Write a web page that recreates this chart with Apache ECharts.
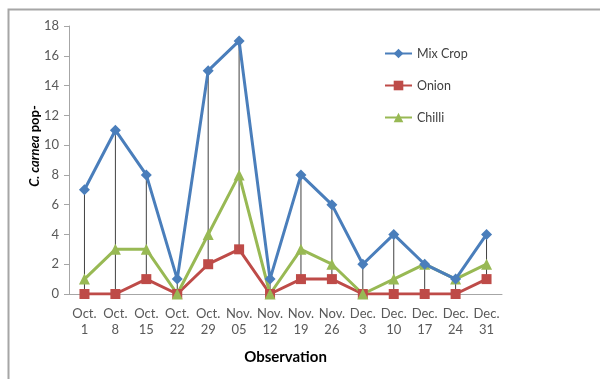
<!DOCTYPE html>
<html>
<head>
<meta charset="utf-8">
<script src="https://cdn.jsdelivr.net/npm/echarts@6/dist/echarts.min.js"></script>
<style>
  html, body { margin: 0; padding: 0; background: #fff; }
  #chart { width: 600px; height: 379px; }
</style>
</head>
<body>
<div id="chart"></div>
<script>
// Sampling dates (two-line labels)
const categories = ['Oct.\n1', 'Oct.\n8', 'Oct.\n15', 'Oct.\n22', 'Oct.\n29', 'Nov.\n05', 'Nov.\n12',
                    'Nov.\n19', 'Nov.\n26', 'Dec.\n3', 'Dec.\n10', 'Dec.\n17', 'Dec.\n24', 'Dec.\n31'];

// C. carnea population per crop
const mixCrop = [7, 11, 8, 1, 15, 17, 1, 8, 6, 2, 4, 2, 1, 4];
const onion   = [0, 0, 1, 0, 2, 3, 0, 1, 1, 0, 0, 0, 0, 1];
const chilli  = [1, 3, 3, 0, 4, 8, 0, 3, 2, 0, 1, 2, 1, 2];

const yTicks = { min: 0, max: 18, interval: 2 };

// High-low span for each date, across the three crops
const highLow = categories.map((c, i) => {
  const vals = [mixCrop[i], onion[i], chilli[i]];
  return [i, Math.min(...vals), Math.max(...vals)];
});

const font = 'Lato, "Open Sans", "Liberation Sans", sans-serif';
const chart = echarts.init(document.getElementById('chart'));

chart.setOption({
  animation: false,
  backgroundColor: '#fff',
  textStyle: { fontFamily: font },
  graphic: [
    {
      type: 'polyline',
      shape: { points: [[8.5, 379], [8.5, 9.5], [600, 9.5]] },
      style: { stroke: '#a6a6a6', lineWidth: 2, fill: null },
      silent: true
    },
    {
      // vertical value-axis title
      type: 'text',
      x: 35,
      y: 146,
      rotation: Math.PI / 2,
      silent: true,
      style: {
        text: '{it|C. carnea} pop-',
        align: 'center',
        verticalAlign: 'middle',
        font: 'bold 13px ' + font,
        fill: '#000',
        rich: { it: { fontFamily: font, fontSize: 13, fontWeight: 'bold', fontStyle: 'italic', color: '#000' } }
      }
    }
  ],
  grid: { left: 69, right: 98, top: 26, bottom: 85 },
  legend: {
    orient: 'vertical',
    left: 379,
    top: 42,
    itemWidth: 27,
    itemHeight: 12,
    itemGap: 19,
    textStyle: { fontFamily: font, fontSize: 12.5, color: '#404040' },
    data: ['Mix Crop', 'Onion', 'Chilli']
  },
  xAxis: {
    type: 'category',
    data: categories,
    boundaryGap: true,
    name: 'Observation',
    nameLocation: 'middle',
    nameGap: 56,
    nameTextStyle: { fontFamily: font, fontSize: 15, fontWeight: 'bold', color: '#000' },
    axisLine: { lineStyle: { color: '#a6a6a6', width: 1 } },
    axisTick: { show: false },
    axisLabel: { interval: 0, fontFamily: font, fontSize: 13, color: '#595959', lineHeight: 16, margin: 12 },
    splitLine: { show: false }
  },
  yAxis: {
    type: 'value',
    min: yTicks.min,
    max: yTicks.max,
    interval: yTicks.interval,
    axisLine: { show: true, lineStyle: { color: '#a6a6a6', width: 1 } },
    axisTick: { show: true, length: 5, lineStyle: { color: '#a6a6a6' } },
    axisLabel: { fontFamily: font, fontSize: 13, color: '#595959', margin: 10 },
    splitLine: { show: false }
  },
  series: [
    {
      name: 'HighLow',
      type: 'custom',
      z: 1,
      silent: true,
      data: highLow,
      renderItem: (params, api) => {
        const lo = api.coord([api.value(0), api.value(1)]);
        const hi = api.coord([api.value(0), api.value(2)]);
        return {
          type: 'line',
          shape: { x1: lo[0], y1: lo[1], x2: hi[0], y2: hi[1] },
          style: { stroke: '#404040', lineWidth: 1 }
        };
      }
    },
    {
      name: 'Mix Crop',
      type: 'line',
      z: 4,
      data: mixCrop,
      symbol: 'diamond',
      symbolSize: 11,
      itemStyle: { color: '#4a7ebb' },
      lineStyle: { color: '#4a7ebb', width: 3 }
    },
    {
      name: 'Onion',
      type: 'line',
      z: 3,
      data: onion,
      symbol: 'rect',
      symbolSize: 10,
      itemStyle: { color: '#be4b48' },
      lineStyle: { color: '#be4b48', width: 3 }
    },
    {
      name: 'Chilli',
      type: 'line',
      z: 3,
      data: chilli,
      symbol: 'triangle',
      symbolSize: 11,
      itemStyle: { color: '#98b954' },
      lineStyle: { color: '#98b954', width: 3 }
    }
  ]
});
</script>
</body>
</html>
